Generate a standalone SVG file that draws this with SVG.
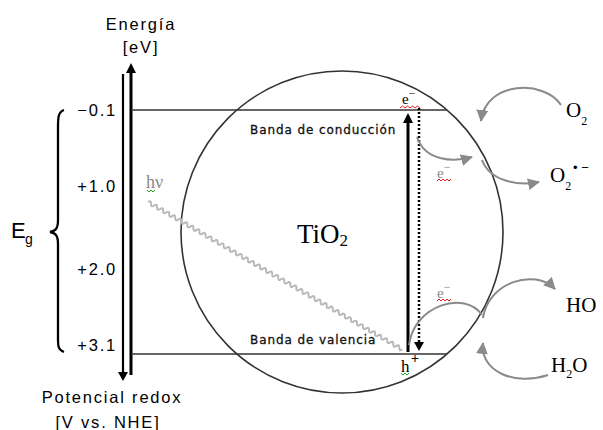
<svg xmlns="http://www.w3.org/2000/svg" width="603" height="430" viewBox="0 0 603 430">
<style>
.sans{font-family:"Liberation Sans",Arial,sans-serif;fill:#000}
.ax{font-size:16.5px;letter-spacing:1.8px}
.serif{font-family:"Liberation Serif","Times New Roman",serif;fill:#000}
.band{font-family:"DejaVu Sans",Verdana,sans-serif;font-size:12px;letter-spacing:0.9px;fill:#111;stroke:#111;stroke-width:0.3}
.gray{fill:#8a8a8a}
.conn{fill:none;stroke:#8a8a8a;stroke-width:2}
.red{fill:none;stroke:#e02020;stroke-width:1}
.green{fill:none;stroke:#20a020;stroke-width:1}
</style>
<defs>
<marker id="ga" markerUnits="userSpaceOnUse" markerWidth="14" markerHeight="12" refX="11" refY="6" orient="auto">
<path d="M0,0 L12,6 L0,12 z" fill="#8a8a8a"/>
</marker>
</defs>
<rect width="603" height="430" fill="#fff"/>

<g id="energy-axis">
<line x1="123" y1="74" x2="123" y2="373" stroke="#000" stroke-width="2.2"/>
<path d="M118,372 L128,372 L123,381 z" fill="#000"/>
<line x1="131" y1="72" x2="131" y2="375" stroke="#000" stroke-width="3"/>
<path d="M126,73 L136,73 L131,63 z" fill="#000"/>
<text class="sans ax" x="141" y="30" text-anchor="middle">Energía</text>
<text class="sans ax" x="141" y="53" text-anchor="middle">[eV]</text>
<text class="sans ax" x="112" y="403" text-anchor="middle">Potencial redox</text>
<text class="sans ax" x="108" y="428" text-anchor="middle">[V vs. NHE]</text>
<text class="sans ax" x="117" y="116" text-anchor="end">−0.1</text>
<text class="sans ax" x="117" y="192" text-anchor="end">+1.0</text>
<text class="sans ax" x="117" y="275" text-anchor="end">+2.0</text>
<text class="sans ax" x="117" y="351" text-anchor="end">+3.1</text>
</g>

<g id="band-gap">
<path d="M64,110 C58,112 58,118 58,128 L58,220 C58,228 56,231 50,232 C56,233 58,236 58,244 L58,338 C58,346 58,350 64,352" fill="none" stroke="#000" stroke-width="2.3"/>
<text class="sans" x="11" y="238" font-size="22">E</text>
<text class="sans" x="25" y="244" font-size="14">g</text>
</g>

<g id="tio2-particle">
<circle cx="342" cy="232" r="161" fill="none" stroke="#333" stroke-width="1.6"/>
<text class="serif" x="297" y="243" font-size="27">TiO<tspan font-size="17" dy="3">2</tspan></text>
</g>

<g id="conduction-band">
<line x1="131" y1="110" x2="447" y2="110" stroke="#333" stroke-width="1.6"/>
<text class="band" x="250" y="134">Banda de conducción</text>
<text class="serif" x="402" y="104" font-size="15">e<tspan font-size="12" dy="-7">−</tspan></text>
<path class="red" d="M400,108 l2.5,-2 l2.5,2 l2.5,-2 l2.5,2 l2.5,-2 l2.5,2 l2.5,-2 l2.5,2"/>
</g>

<g id="valence-band">
<line x1="131" y1="354" x2="447" y2="354" stroke="#333" stroke-width="1.6"/>
<text class="band" x="250" y="344">Banda de valencia</text>
<text class="serif" x="401" y="372" font-size="17">h</text>
<text class="serif" x="411" y="363" font-size="14" font-weight="bold">+</text>
<path class="green" d="M401,373 l2,2 l2,-2 l2,2 l2,-2"/>
</g>

<g id="photon">
<path transform="translate(148,202) rotate(30.1)" d="M0,0 q1.75,-3.4 3.5,0 t3.5,0 t3.5,0 t3.5,0 t3.5,0 t3.5,0 t3.5,0 t3.5,0 t3.5,0 t3.5,0 t3.5,0 t3.5,0 t3.5,0 t3.5,0 t3.5,0 t3.5,0 t3.5,0 t3.5,0 t3.5,0 t3.5,0 t3.5,0 t3.5,0 t3.5,0 t3.5,0 t3.5,0 t3.5,0 t3.5,0 t3.5,0 t3.5,0 t3.5,0 t3.5,0 t3.5,0 t3.5,0 t3.5,0 t3.5,0 t3.5,0 t3.5,0 t3.5,0 t3.5,0 t3.5,0 t3.5,0 t3.5,0 t3.5,0 t3.5,0 t3.5,0 t3.5,0 t3.5,0 t3.5,0 t3.5,0 t3.5,0 t3.5,0 t3.5,0 t3.5,0 t3.5,0 t3.5,0 t3.5,0 t3.5,0 t3.5,0 t3.5,0 t3.5,0 t3.5,0 t3.5,0 t3.5,0 t3.5,0 t3.5,0 t3.5,0 t3.5,0 t3.5,0 t3.5,0 t3.5,0 t3.5,0 t3.5,0 t3.5,0 t3.5,0 t3.5,0 t3.5,0 t3.5,0 t3.5,0 t3.5,0 t3.5,0 t3.5,0 t3.5,0 t3.5,0 t3.5,0" fill="none" stroke="#b8b8b8" stroke-width="2"/>
<text class="serif gray" x="146" y="188" font-size="18">hν</text>
<path class="green" d="M147,190 l2,2 l2,-2 l2,2 l2,-2"/>
</g>

<g id="excitation">
<line x1="408" y1="352" x2="408" y2="122" stroke="#000" stroke-width="3"/>
<path d="M403,123 L413,123 L408,113 z" fill="#000"/>
<line x1="419" y1="108" x2="419" y2="343" stroke="#000" stroke-width="2.5" stroke-dasharray="2,2"/>
<path d="M414,342 L424,342 L419,351 z" fill="#000"/>
</g>

<g id="electron-transfer">
<text class="serif gray" x="437" y="178" font-size="15">e<tspan font-size="12" dy="-7">−</tspan></text>
<path class="red" d="M437,181 l2,-2 l2,2 l2,-2 l2,2 l2,-2 l2,2 l2,-2"/>
</g>

<g id="hole-transfer">
<text class="serif gray" x="437" y="298" font-size="15">e<tspan font-size="12" dy="-7">−</tspan></text>
<path class="red" d="M437,301 l2,-2 l2,2 l2,-2 l2,2 l2,-2 l2,2 l2,-2"/>
</g>

<g id="o2">
<text class="serif" x="566" y="117" font-size="21">O<tspan font-size="12" dy="8">2</tspan></text>
</g>
<g id="o2-radical">
<text class="serif" x="550" y="182" font-size="21">O<tspan font-size="12" dy="8">2</tspan></text>
<text class="sans" x="573" y="172" font-size="13">• −</text>
</g>
<g id="ho">
<text class="serif" x="566" y="312" font-size="21">HO</text>
</g>
<g id="h2o">
<text class="serif" x="551" y="372" font-size="21">H<tspan font-size="12" dy="6">2</tspan><tspan dy="-6">O</tspan></text>
</g>

<g id="connectors">
<path class="conn" d="M417,137 C425,162 455,162 472,157" marker-end="url(#ga)"/>
<path class="conn" d="M561,105 C545,80 486,80 481,121" marker-end="url(#ga)"/>
<path class="conn" d="M482,160 C490,182 520,186 539,182" marker-end="url(#ga)"/>
<path class="conn" d="M409,345 C414,305 465,290 482,315"/>
<path class="conn" d="M483,318 C488,282 535,268 555,289" marker-end="url(#ga)"/>
<path class="conn" d="M548,375 C515,386 480,372 483,343" marker-end="url(#ga)"/>
</g>
</svg>
